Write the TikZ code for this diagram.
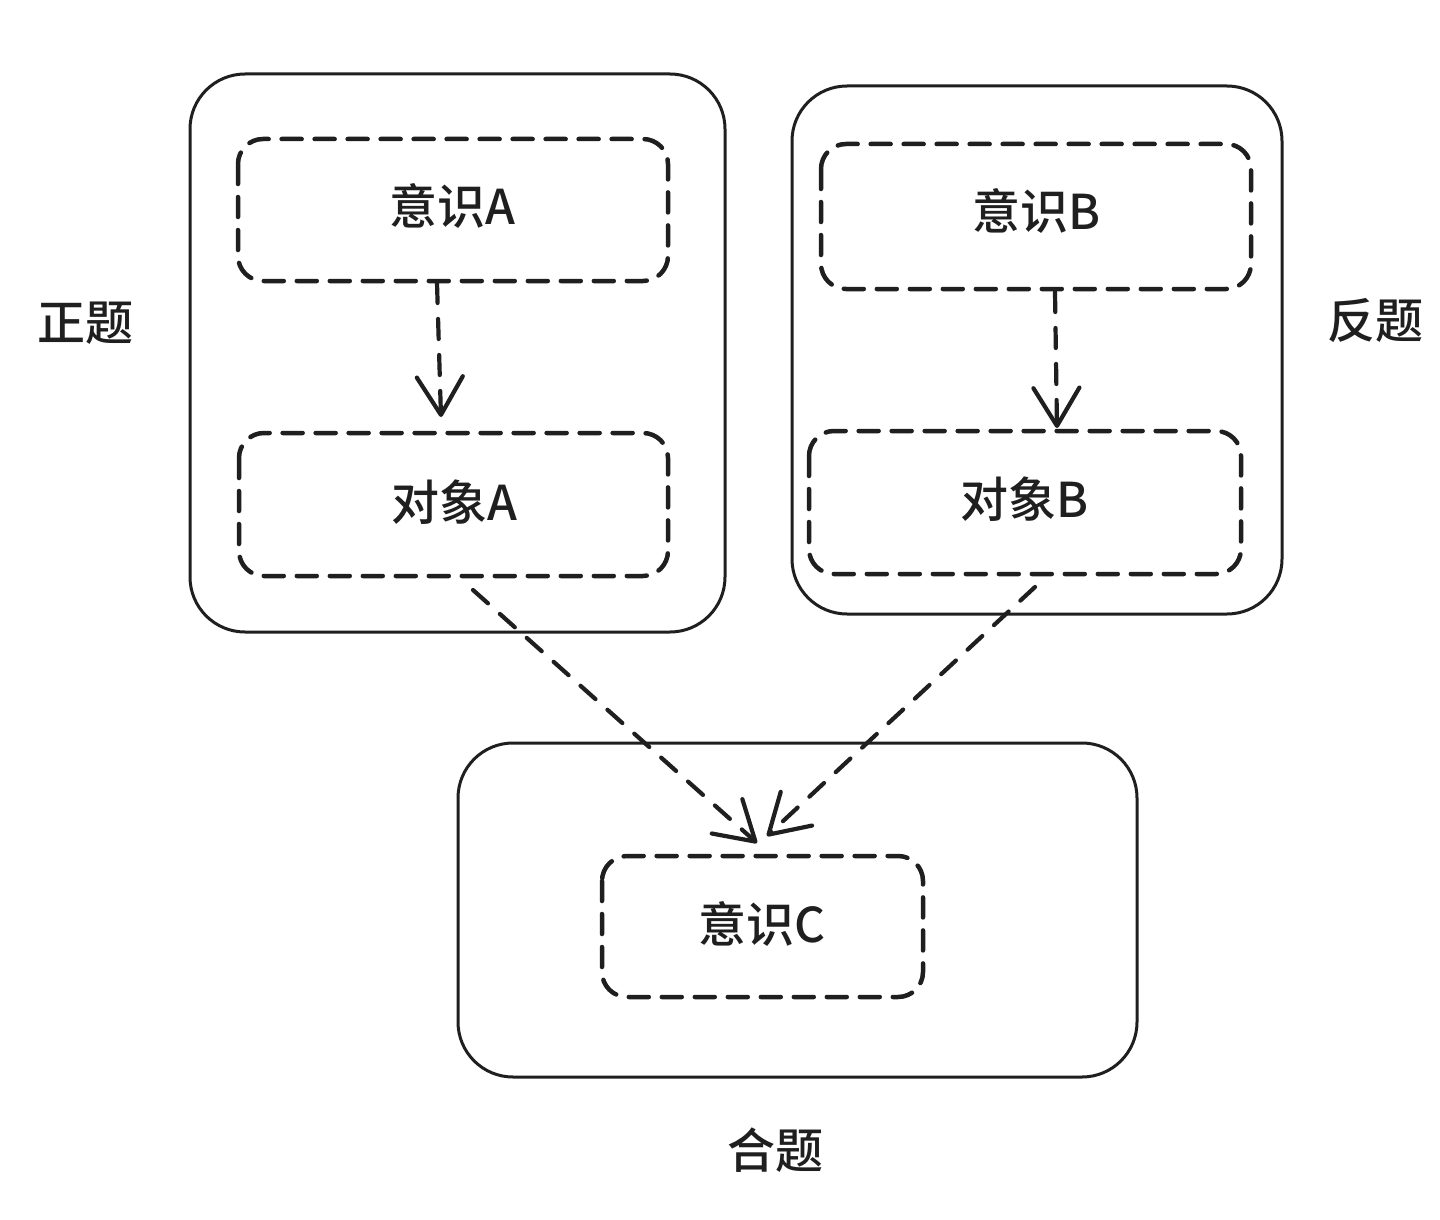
\documentclass[tikz,border=0pt]{standalone}
\usepackage{fontspec}
\setmainfont{Noto Sans CJK SC}[BoldFont={Noto Sans CJK SC Medium}]
\usetikzlibrary{arrows.meta}
\tikzset{
  outerbox/.style={draw=black!88, line width=3pt, rounded corners=55pt},
  dashbox/.style={draw=black!88, line width=4.5pt, dash pattern=on 20pt off 13pt, line cap=round, rounded corners=25pt},
  lbl/.style={font=\fontsize{48}{56}\selectfont\bfseries, text=black!88},
  conn/.style={draw=black!88, line width=4.2pt, dash pattern=on 20pt off 16pt, line cap=round,
    -{Straight Barb[length=38pt,width=46pt,line width=4.2pt,round]}},
}
\begin{document}
\begin{tikzpicture}[x=1pt,y=-1pt]
\useasboundingbox[fill=white] (0,0) rectangle (1440,1220);
% outer boxes
\draw[outerbox] (190,74) rectangle (725,632);
\draw[outerbox] (792,86) rectangle (1282,614);
\draw[outerbox] (458,743) rectangle (1137,1077);
% dashed boxes
\draw[dashbox] (238,139) rectangle (668,281);
\node[lbl] (ya) at (452,206) {意识A};
\coordinate (yaS) at (437,283);
\draw[dashbox] (239,433) rectangle (668,576);
\node[lbl] (da) at (454,502) {对象A};
\coordinate (daN) at (441,417);
\coordinate (daS) at (473,590);

\draw[dashbox] (821,144) rectangle (1251,289);
\node[lbl] (yb) at (1036,211) {意识B};
\coordinate (ybS) at (1055,292);
\draw[dashbox] (809,431) rectangle (1241,574);
\node[lbl] (db) at (1024,499) {对象B};
\coordinate (dbN) at (1057,428);
\coordinate (dbS) at (1035,587);

\draw[dashbox] (602,856) rectangle (923,997);
\node[lbl] (yc) at (762,924) {意识C};
\coordinate (ycNL) at (757,843);
\coordinate (ycNR) at (767,836);

% connectors
\draw[conn] (yaS) -- (daN);
\draw[conn] (ybS) -- (dbN);
\draw[conn] (daS) -- (ycNL);
\draw[conn] (dbS) -- (ycNR);

% labels
\node[lbl] (zt) at (85,323) {正题};
\node[lbl] (ft) at (1375,320) {反题};
\node[lbl] (ht) at (775,1150) {合题};
\end{tikzpicture}
\end{document}
